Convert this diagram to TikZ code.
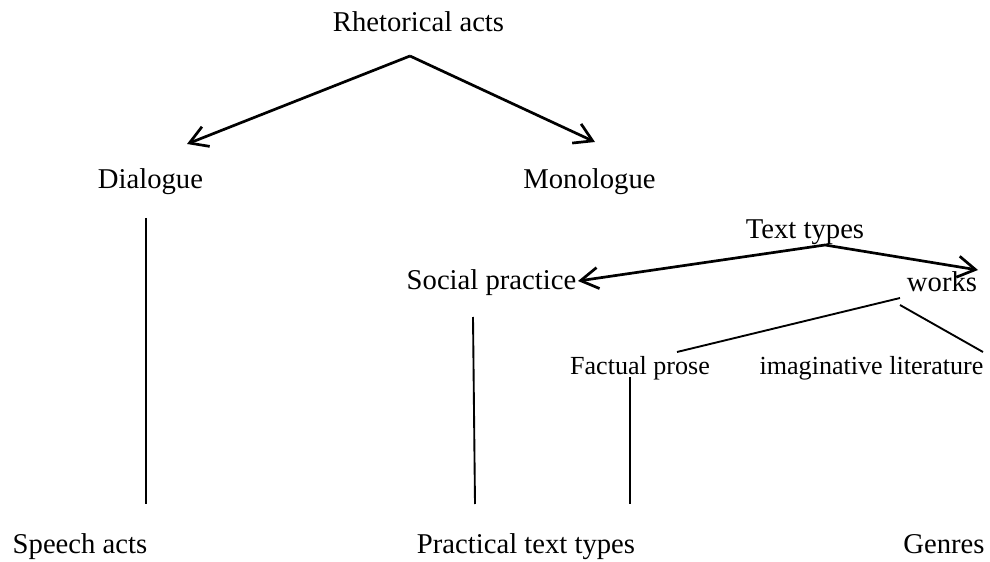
\documentclass[tikz,border=0pt]{standalone}
\usepackage{fontspec}
\setmainfont{Liberation Serif}
\usepackage{tikz}
\usetikzlibrary{arrows.meta, positioning}

\begin{document}
\begin{tikzpicture}[x=0.4255pt, y=-0.4255pt,
    lbl/.style={anchor=base, inner sep=0pt, font=\fontsize{12.2}{14}\selectfont},
    smalllbl/.style={anchor=base, inner sep=0pt, font=\fontsize{11.1}{13}\selectfont},
    arr/.style={-{Straight Barb[length=7.5pt, width=9pt]}, line width=1.15pt},
    ln/.style={line width=0.8pt}]
    \useasboundingbox (0,0) rectangle (990,562);
    % Labels
    \node[lbl] (rhet) at (418.5,32) {Rhetorical acts};
    \node[lbl] (dialogue) at (150.5,189) {Dialogue};
    \node[lbl] (monologue) at (589.5,189) {Monologue};
    \node[lbl] (textTypes) at (805,238) {Text types};
    \node[lbl] (social) at (491.5,290) {Social practice};
    \node[lbl] (works) at (942,292) {works};
    \node[smalllbl] (factual) at (640,374) {Factual prose};
    \node[smalllbl] (imaginative) at (871.5,374) {imaginative literature};
    \node[lbl] (speech) at (80,553) {Speech acts};
    \node[lbl] (practical) at (526,553) {Practical text types};
    \node[lbl] (genres) at (944,553) {Genres};
    % Line ends
    \coordinate (rhetFork) at (410,56);
    \coordinate (dialogueIn) at (187,144);
    \coordinate (monologueIn) at (595,142);
    \coordinate (dialogueOut) at (146,218);
    \coordinate (speechIn) at (146,504);
    \coordinate (textFork) at (825,245);
    \coordinate (socialIn) at (578,281);
    \coordinate (worksIn) at (978,270);
    \coordinate (worksOutA) at (900,298);
    \coordinate (worksOutB) at (900,305);
    \coordinate (factualIn) at (677,352);
    \coordinate (imaginativeIn) at (983,352);
    \coordinate (socialOut) at (473,317);
    \coordinate (practicalIn) at (475,504);
    \coordinate (factualOut) at (630,377);
    \coordinate (practicalInB) at (630,504);
    % Arrows
    \draw[arr] (rhetFork) -- (dialogueIn);
    \draw[arr] (rhetFork) -- (monologueIn);
    \draw[arr] (textFork) -- (socialIn);
    \draw[arr] (textFork) -- (worksIn);
    % Plain lines
    \draw[ln] (worksOutA) -- (factualIn);
    \draw[ln] (worksOutB) -- (imaginativeIn);
    \draw[ln] (dialogueOut) -- (speechIn);
    \draw[ln] (socialOut) -- (practicalIn);
    \draw[ln] (factualOut) -- (practicalInB);
\end{tikzpicture}
\end{document}
